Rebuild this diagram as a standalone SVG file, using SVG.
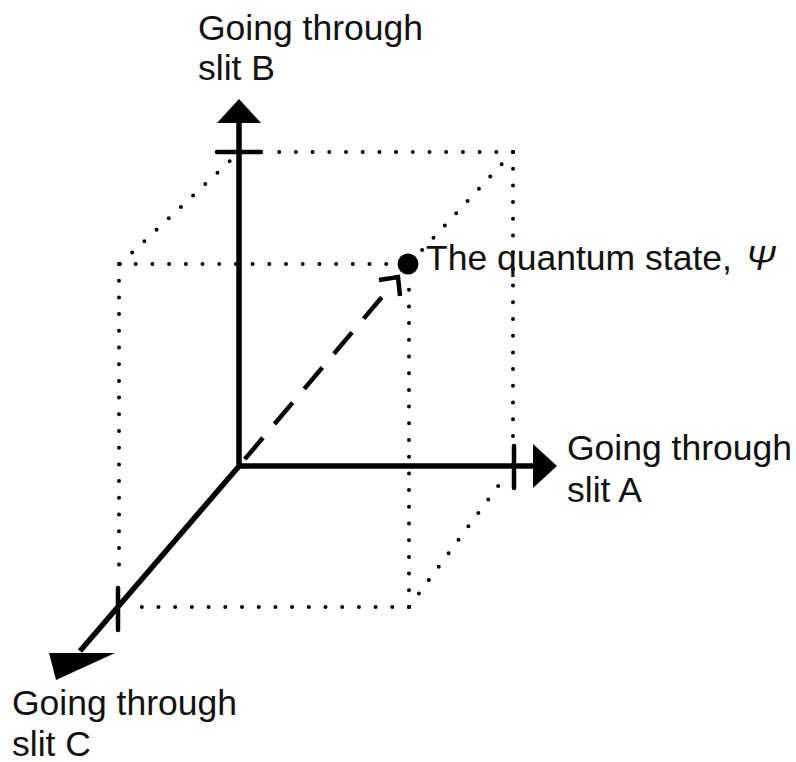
<svg xmlns="http://www.w3.org/2000/svg" width="796" height="762" viewBox="0 0 796 762">
<style>
.dot{stroke:#000;stroke-width:4;stroke-linecap:round;stroke-dasharray:0 16.7;fill:none}
.axis{stroke:#000;stroke-width:5.5;fill:none}
.tick{stroke:#000;stroke-width:4.5;stroke-linecap:round;fill:none}
.lbl{font-family:"Liberation Sans",Arial,sans-serif;font-size:35.5px;fill:#111}
</style>
<rect width="796" height="762" fill="#fff"/>
<g id="box">
<line class="dot" x1="513" y1="152" x2="268" y2="152"/>
<line class="dot" x1="513" y1="152" x2="513" y2="436"/>
<line class="dot" x1="409" y1="607" x2="507" y2="474"/>
<line class="dot" x1="120" y1="264" x2="232" y2="159"/>
<line class="dot" x1="513" y1="152" x2="409" y2="264"/>
<line class="dot" x1="119" y1="264" x2="395" y2="264"/>
<line class="dot" x1="119" y1="264" x2="119" y2="580"/>
<line class="dot" x1="409" y1="607" x2="409" y2="278"/>
<line class="dot" x1="409" y1="607" x2="128" y2="607"/>
</g>
<g id="connectors">
<line id="axisB" class="axis" x1="239" y1="468" x2="239" y2="120"/>
<polygon points="239,99 261,123 217,123" fill="#000"/>
<line class="tick" x1="217" y1="152" x2="261" y2="152"/>
<line id="axisA" class="axis" x1="237" y1="466" x2="536" y2="466"/>
<polygon points="557,466 533,444 533,488" fill="#000"/>
<line class="tick" x1="514" y1="446" x2="514" y2="488"/>
<line id="axisC" class="axis" x1="240" y1="465" x2="80" y2="651"/>
<polygon points="49,653 115,653 56,680" fill="#000"/>
<line class="tick" x1="118" y1="588" x2="118" y2="630"/>
<line id="psi" x1="239" y1="466" x2="382" y2="297" stroke="#000" stroke-width="4.5" stroke-dasharray="28 18" stroke-dashoffset="37"/>
<polyline points="379,280 398,277 400,296" fill="none" stroke="#000" stroke-width="4.5"/>
</g>
<g id="state">
<circle cx="408" cy="264" r="10.5" fill="#000"/>
<text class="lbl" x="426" y="270">The quantum state, <tspan x="746" font-style="italic">Ψ</tspan></text>
</g>
<g id="labelB">
<text class="lbl" x="198" y="40">Going through</text>
<text class="lbl" x="198" y="80">slit B</text>
</g>
<g id="labelA">
<text class="lbl" x="567" y="460">Going through</text>
<text class="lbl" x="567" y="502">slit A</text>
</g>
<g id="labelC">
<text class="lbl" x="12" y="715">Going through</text>
<text class="lbl" x="12" y="756">slit C</text>
</g>
</svg>
